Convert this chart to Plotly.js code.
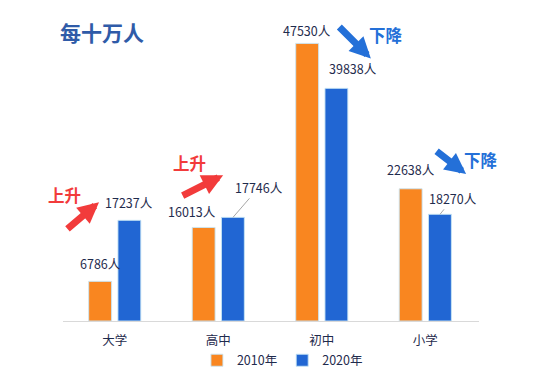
<!DOCTYPE html>
<html><head><meta charset="utf-8">
<script src="https://cdn.plot.ly/plotly-3.0.1.min.js"></script>
<style>html,body{margin:0;padding:0;background:#fff}#c{width:539px;height:371px}</style>
</head><body><div id="c"></div>
<script>
const categories = ['大学', '高中', '初中', '小学'];
const values2010 = [6786, 16013, 47530, 22638];
const values2020 = [17237, 17746, 39838, 18270];
const seriesNames = ['2010年', '2020年'];
const unit = '人';

const FONT = '"Noto Sans CJK SC", "Noto Sans", sans-serif';
const labelColor = '#1f2b4d';
const orange = '#F98620';
const blue = '#2166D3';
const red = '#F23B3B';
const arrowBlue = '#2470D8';

// label placement per bar: [xshift, yshift, leaderAx, leaderAy, useLeader] (px)
const off2010 = [[-14.7, 6], [-26, 4], [-14.7, 1], [-14.7, 8]];
const off2020 = [[14.7, 6], [14.7, 6, 26, -30, true], [31, 8], [14.7, 0, 13, -16, true]];

const traces = [
  {type: 'bar', name: seriesNames[0], x: categories, y: values2010,
   marker: {color: orange, line: {color: 'rgba(200,230,245,0.9)', width: 1}}, hoverinfo: 'none'},
  {type: 'bar', name: seriesNames[1], x: categories, y: values2020,
   marker: {color: blue, line: {color: 'rgba(200,230,245,0.9)', width: 1}}, hoverinfo: 'none'}
];

const ann = [];
categories.forEach((c, i) => {
  const o = off2010[i];
  ann.push({x: c, y: values2010[i], xref: 'x', yref: 'y', text: values2010[i] + unit,
    showarrow: false, xshift: o[0], yshift: o[1], yanchor: 'bottom', xanchor: 'center',
    font: {family: FONT, size: 12.5, color: labelColor}});
  const p = off2020[i];
  if (p[4]) {
    ann.push({x: c, y: values2020[i], xref: 'x', yref: 'y', text: values2020[i] + unit,
      showarrow: true, arrowhead: 0, arrowwidth: 1, arrowcolor: '#a6a6a6',
      ax: p[2], ay: p[3], xshift: p[0],
      font: {family: FONT, size: 12.5, color: labelColor}});
  } else {
    ann.push({x: c, y: values2020[i], xref: 'x', yref: 'y', text: values2020[i] + unit,
      showarrow: false, xshift: p[0], yshift: p[1], yanchor: 'bottom', xanchor: 'center',
      font: {family: FONT, size: 12.5, color: labelColor}});
  }
});

// title
ann.push({xref: 'paper', yref: 'paper', x: 0.094, y: 0.991, xanchor: 'center', yanchor: 'middle',
  text: '<b>每十万人</b>', showarrow: false,
  font: {family: FONT, size: 21, color: '#2F5BA8'}});

// trend arrows
const arrows = [
  {x: 0.0865, y: 0.407, ax: -33, ay: 28, color: red},
  {x: 0.385, y: 0.499, ax: -42, ay: 21, color: red},
  {x: 0.740, y: 0.899, ax: -33, ay: -33, color: arrowBlue},
  {x: 0.969, y: 0.503, ax: -31, ay: -24, color: arrowBlue}
];
arrows.forEach(a => ann.push({xref: 'paper', yref: 'paper', x: a.x, y: a.y, ax: a.ax, ay: a.ay,
  text: '', showarrow: true, arrowhead: 2, arrowsize: 0.6, arrowwidth: 7, arrowcolor: a.color}));

const trendTexts = [
  {x: 0.0048, y: 0.431, t: '上升', color: red},
  {x: 0.303, y: 0.540, t: '上升', color: red},
  {x: 0.776, y: 0.978, t: '下降', color: arrowBlue},
  {x: 1.005, y: 0.550, t: '下降', color: arrowBlue}
];
trendTexts.forEach(a => ann.push({xref: 'paper', yref: 'paper', x: a.x, y: a.y, xanchor: 'center', yanchor: 'middle',
  text: '<b>' + a.t + '</b>', showarrow: false, font: {family: FONT, size: 16.5, color: a.color}}));

const layout = {
  width: 539, height: 371,
  margin: {l: 63, r: 60, t: 28.5, b: 50},
  paper_bgcolor: '#fff', plot_bgcolor: '#fff',
  barmode: 'group', bargap: 0.435, bargroupgap: 0.218,
  xaxis: {showline: true, linecolor: '#d9d9d9', linewidth: 1, ticks: '', showgrid: false,
    ticklabelstandoff: 8, automargin: false,
    tickfont: {family: FONT, size: 12.5, color: labelColor}, fixedrange: true},
  yaxis: {range: [0, 50000], showgrid: false, zeroline: false, showticklabels: false, showline: false, fixedrange: true},
  showlegend: true,
  legend: {orientation: 'h', x: 0.524, xanchor: 'center', xref: 'container', y: 0.028, yref: 'container', yanchor: 'middle',
    itemwidth: 30, font: {family: FONT, size: 12.5, color: labelColor}, traceorder: 'normal'},
  annotations: ann
};

Plotly.newPlot('c', traces, layout, {displayModeBar: false, staticPlot: true});
</script>
</body></html>
